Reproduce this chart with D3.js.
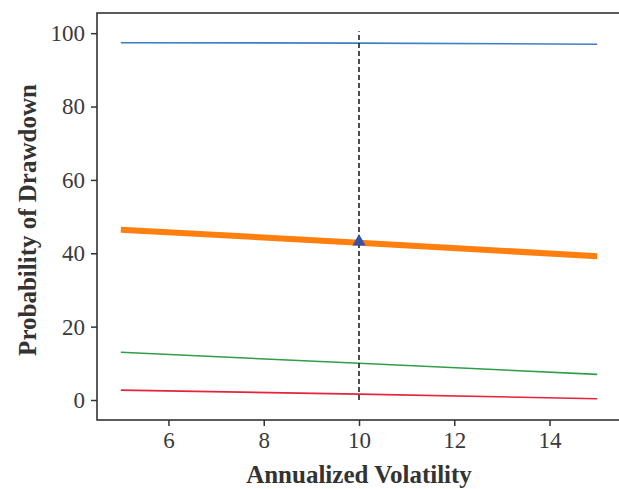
<!DOCTYPE html>
<html>
<head>
<meta charset="utf-8">
<script src="https://cdnjs.cloudflare.com/ajax/libs/d3/7.8.5/d3.min.js"></script>
<style>
  body { margin: 0; background: #fff; }
  svg text { font-family: "Liberation Serif", "Times New Roman", serif; }
</style>
</head>
<body>
<div id="chart"></div>
<script>
// values
var vol = [5, 10, 15];
var series = [
  { name: 'a', color: '#3f7fc6', width: 1.6, values: [97.4, 97.3, 97.0] },
  { name: 'b', color: '#ff7f0e', width: 6,   values: [46.4, 42.9, 39.2] },
  { name: 'c', color: '#2e9e4a', width: 1.6, values: [13.0, 10.0, 7.0] },
  { name: 'd', color: '#e3243b', width: 1.6, values: [2.7, 1.6, 0.35] }
];
var xTicks = [6, 8, 10, 12, 14];
var yTicks = [0, 20, 40, 60, 80, 100];
var marker = { x: 10, y: 42.9 };
var vline = { x: 10, y0: 0, y1: 100.5 };

var W = 619, H = 489;
var margin = { top: 13, left: 97, right: -2, bottom: 69 };

var svg = d3.select('#chart').append('svg')
  .attr('width', W).attr('height', H);

var x = d3.scaleLinear().domain([4.5, 15.5]).range([margin.left, W - margin.right]);
var y = d3.scaleLinear().domain([-5.45, 105.5]).range([H - margin.bottom, margin.top]);

// frame
svg.append('rect')
  .attr('x', margin.left).attr('y', margin.top)
  .attr('width', W - margin.right - margin.left)
  .attr('height', H - margin.bottom - margin.top)
  .attr('fill', 'none').attr('stroke', '#333').attr('stroke-width', 1.6);

// lines
var line = d3.line()
  .x(function(d, i) { return x(vol[i]); })
  .y(function(d) { return y(d); });

svg.selectAll('.series')
  .data(series)
  .enter().append('path')
    .attr('class', 'series')
    .attr('d', function(d) { return line(d.values); })
    .attr('fill', 'none')
    .attr('stroke', function(d) { return d.color; })
    .attr('stroke-width', function(d) { return d.width; });

// vertical dashed line
svg.append('line')
  .attr('x1', x(vline.x)).attr('x2', x(vline.x))
  .attr('y1', y(vline.y0)).attr('y2', y(vline.y1))
  .attr('stroke', '#222').attr('stroke-width', 1.6)
  .attr('stroke-dasharray', '5,3');

// marker
svg.append('path')
  .attr('d', d3.symbol().type(d3.symbolTriangle).size(75)())
  .attr('transform', 'translate(' + x(marker.x) + ',' + (y(marker.y) - 1) + ')')
  .attr('fill', '#3454aa');

// axes
var xAxis = svg.append('g')
  .attr('transform', 'translate(0,' + (H - margin.bottom) + ')')
  .call(d3.axisBottom(x).tickValues(xTicks).tickSize(6).tickPadding(6));
var yAxis = svg.append('g')
  .attr('transform', 'translate(' + margin.left + ',0)')
  .call(d3.axisLeft(y).tickValues(yTicks).tickSize(6).tickPadding(6));

[xAxis, yAxis].forEach(function(a) {
  a.select('.domain').remove();
  a.selectAll('line').attr('stroke', '#333').attr('stroke-width', 1.5);
  a.selectAll('text')
    .attr('fill', '#3a3a3a')
    .style('font-family', '"Liberation Serif", serif')
    .style('font-size', '23px');
});

// axis titles
svg.append('text')
  .attr('x', (margin.left + W - margin.right) / 2)
  .attr('y', 483)
  .attr('text-anchor', 'middle')
  .style('font-size', '25px').style('font-weight', 'bold')
  .attr('fill', '#333')
  .text('Annualized Volatility');

svg.append('text')
  .attr('transform', 'translate(36,220) rotate(-90)')
  .attr('text-anchor', 'middle')
  .style('font-size', '25px').style('font-weight', 'bold')
  .attr('fill', '#333')
  .text('Probability of Drawdown');
</script>
</body>
</html>
